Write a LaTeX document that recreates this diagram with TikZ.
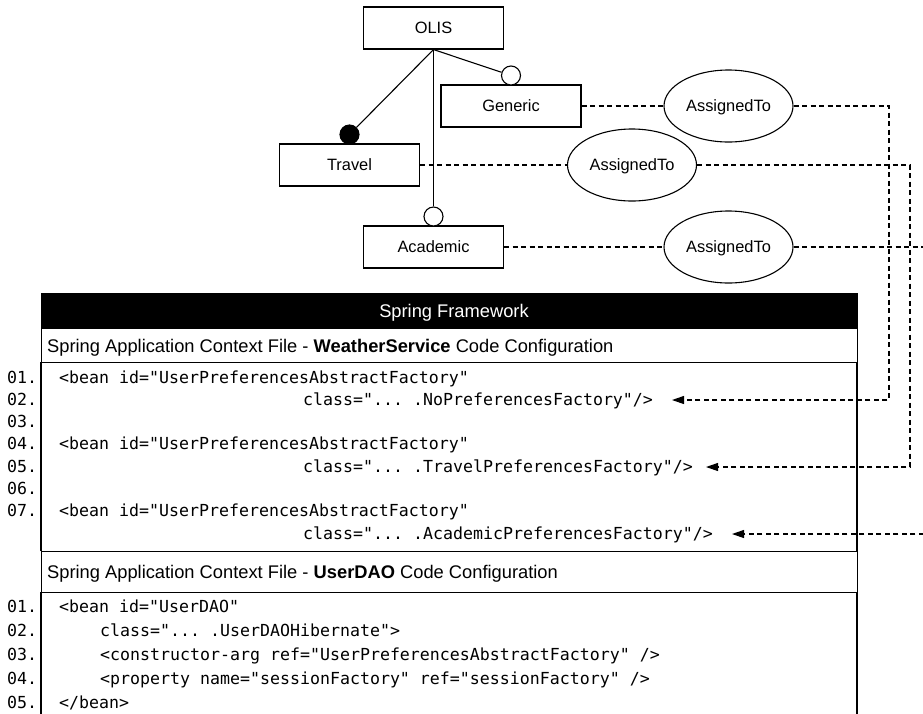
\documentclass[tikz,border=0pt]{standalone}
\usepackage{fontspec}
\setmainfont{Liberation Sans}
\newfontfamily\codefont{DejaVu Sans Mono}
\usetikzlibrary{shapes.geometric,arrows.meta}
\begin{document}
\begin{tikzpicture}[x=1pt,y=-1pt,
  lab/.style={font=\fontsize{16.4}{19}\selectfont, text height=11.8pt, text depth=0pt},
  big/.style={font=\fontsize{18.3}{21}\selectfont, text height=13pt, text depth=0pt},
  ent/.style={draw, lab, line width=1.1pt, minimum width=140pt, minimum height=42pt, inner sep=0pt},
  rel/.style={draw, ellipse, lab, line width=1.1pt, minimum width=129pt, minimum height=72pt, inner sep=0pt},
  ocirc/.style={circle, draw, fill=white, line width=1.1pt, minimum size=19pt, inner sep=0pt},
  fcirc/.style={circle, draw, fill=black, line width=1.1pt, minimum size=19pt, inner sep=0pt},
  link/.style={line width=1.1pt},
  dl/.style={line width=1.1pt, dash pattern=on 5pt off 3.5pt},
  arr/.style={dl, -{Triangle[length=12pt,width=8pt]}},
  code/.style={anchor=base west, inner sep=0pt, font=\codefont\fontsize{16.6}{20}\selectfont\frenchspacing},
  hdrtext/.style={anchor=west, inner sep=0pt, big},
  band/.style={draw, line width=1.1pt, anchor=north west, minimum width=816pt, inner sep=0pt},
]
\useasboundingbox (0,0) rectangle (923,713);
\clip (0,0) rectangle (923,713);

% --- entity boxes ---
\node[ent] (olis) at (433.5,28) {OLIS};
\node[ent] (generic) at (511,106) {Generic};
\node[ent] (travel) at (349.5,165) {Travel};
\node[ent] (academic) at (433.5,247) {Academic};

% --- relation ellipses ---
\node[rel] (a1) at (728.5,106) {AssignedTo};
\node[rel] (a2) at (632,165) {AssignedTo};
\node[rel] (a3) at (728.5,247) {AssignedTo};

% --- cardinality circles ---
\node[ocirc] (cg) at (511,75.5) {};
\node[fcirc] (ct) at (349.5,134.5) {};
\node[ocirc] (ca) at (433.5,216.5) {};

\draw[link] (olis.south) -- (cg);
\draw[link] (olis.south) -- (ct);
\draw[line width=1pt] (olis.south) -- (ca);

% --- dashed associations ---
\draw[dl] (generic.east) -- (a1.west);
\draw[dl] (travel.east) -- (a2.west);
\draw[dl] (academic.east) -- (a3.west);

\coordinate (t1) at (672,400);
\coordinate (t2) at (706,467);
\coordinate (t3) at (732,534);
\coordinate (k1) at (889,400);
\coordinate (k2) at (910,467);
\coordinate (k3) at (932,534);

% --- Spring framework frame ---
\node[band, fill=black, minimum height=35pt] (sf) at (41,293) {};
\node[big, text=white, inner sep=0pt] (sft) at (454,311) {Spring Framework};
\node[band, minimum height=34pt] (h1) at (41,328) {};
\node[hdrtext] (h1t) at (47,345.5) {Spring Application Context File - \textbf{WeatherService} Code Configuration};
\node[band, minimum height=41pt] (h2) at (41,551) {};
\node[hdrtext] (h2t) at (47,571.5) {Spring Application Context File - \textbf{UserDAO} Code Configuration};
\draw[link] (41,362) -- (41,551);
\draw[link] (857,362) -- (857,551);
\draw[link] (41,592) -- (41,720);
\draw[link] (857,592) -- (857,720);

% --- code block 1 ---
\node[code] (n11) at (7,383) {01.};
\node[code] (n12) at (7,405.3) {02.};
\node[code] (n13) at (7,427.6) {03.};
\node[code] (n14) at (7,449.9) {04.};
\node[code] (n15) at (7,472.2) {05.};
\node[code] (n16) at (7,494.5) {06.};
\node[code] (n17) at (7,516.8) {07.};
\node[code] (c11) at (59,383) {<bean id="UserPreferencesAbstractFactory"};
\node[code] (c12) at (303,405.3) {class="... .NoPreferencesFactory"/>};
\node[code] (c14) at (59,449.9) {<bean id="UserPreferencesAbstractFactory"};
\node[code] (c15) at (303,472.2) {class="... .TravelPreferencesFactory"/>};
\node[code] (c17) at (59,516.8) {<bean id="UserPreferencesAbstractFactory"};
\node[code] (c18) at (303,539.1) {class="... .AcademicPreferencesFactory"/>};

% --- code block 2 ---
\node[code] (n21) at (7,612) {01.};
\node[code] (n22) at (7,636) {02.};
\node[code] (n23) at (7,660) {03.};
\node[code] (n24) at (7,684) {04.};
\node[code] (n25) at (7,708) {05.};
\node[code] (c21) at (59,612) {<bean id="UserDAO"};
\node[code] (c22) at (100,636) {class="... .UserDAOHibernate">};
\node[code] (c23) at (100,660) {<constructor-arg ref="UserPreferencesAbstractFactory" />};
\node[code] (c24) at (100,684) {<property name="sessionFactory" ref="sessionFactory" />};
\node[code] (c25) at (59,708) {</bean>};

% --- assignment arrows ---
\draw[arr] (a1.east) -| (k1) -- (t1);
\draw[arr] (a2.east) -| (k2) -- (t2);
\draw[arr] (a3.east) -| (k3) -- (t3);
\end{tikzpicture}
\end{document}
